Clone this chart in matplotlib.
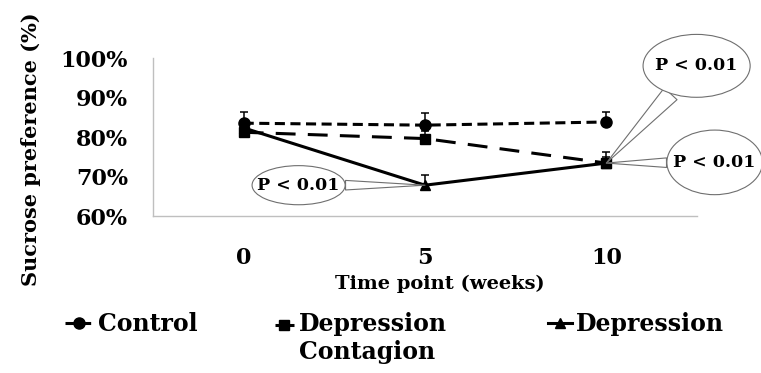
import numpy as np
import matplotlib
matplotlib.use("Agg")
import matplotlib.pyplot as plt
from matplotlib.path import Path
from matplotlib.transforms import Affine2D
from matplotlib.legend_handler import HandlerLine2D
from matplotlib.ticker import PercentFormatter

# values (fraction of 1)
weeks = ["0", "5", "10"]
control = [0.835, 0.830, 0.838]
control_err = [0.028, 0.030, 0.025]
contagion = [0.812, 0.796, 0.734]
contagion_err = [0.015, 0.020, 0.015]
depression = [0.823, 0.678, 0.734]
depression_err = [0.015, 0.025, 0.028]

labels = ["Control", "Depression\nContagion", "Depression"]
p_text = "P < 0.01"

SERIF = "DejaVu Serif"


class EllipseBox:
    # speech bubble body for the p-value callouts
    def __init__(self, sx, sy):
        self.sx, self.sy = sx, sy

    def __call__(self, x0, y0, width, height, mutation_size):
        rx = width / 2 * self.sx
        ry = height / 2 * self.sy
        return Path.unit_circle().transformed(
            Affine2D().scale(rx, ry).translate(x0 + width / 2, y0 + height / 2))


class RaisedLine(HandlerLine2D):
    # keep the handle level with the first line of a two line label
    def create_artists(self, legend, orig_handle, xdescent, ydescent,
                       width, height, fontsize, trans):
        arts = super().create_artists(legend, orig_handle, xdescent, ydescent,
                                      width, height, fontsize, trans)
        for a in arts:
            a.set_ydata(np.asarray(a.get_ydata()) + 0.6 * fontsize)
        return arts


fig = plt.figure(figsize=(7.61, 3.73), dpi=100)
ax = fig.add_axes([153 / 761, 1 - 216 / 373, 544 / 761, 158 / 373])

x = np.arange(len(weeks))
lw = 2.2
err_kw = dict(fmt="none", ecolor="black", elinewidth=1.1, capsize=3, capthick=1.1)

ax.errorbar(x, control, yerr=[np.zeros(3), control_err], **err_kw)
ax.errorbar(x, contagion, yerr=[np.zeros(3), contagion_err], **err_kw)
ax.errorbar(x, depression, yerr=[np.zeros(3), depression_err], **err_kw)

l_ctrl, = ax.plot(x, control, color="black", lw=lw, ls=(0, (3.3, 1.8)),
                  marker="o", ms=8)
l_cont, = ax.plot(x, contagion, color="black", lw=lw, ls=(0, (6.5, 4)),
                  marker="s", ms=6.5)
l_dep, = ax.plot(x, depression, color="black", lw=lw, ls="-",
                 marker="^", ms=7)

ax.set_xlim(-0.5, len(weeks) - 0.5)
ax.set_ylim(0.6, 1.0)
ax.set_yticks(np.arange(0.6, 1.01, 0.1))
ax.yaxis.set_major_formatter(PercentFormatter(1.0, decimals=0))
ax.set_xticks(x, weeks)

for s in ["top", "right"]:
    ax.spines[s].set_visible(False)
for s in ["left", "bottom"]:
    ax.spines[s].set_color("#bfbfbf")
    ax.spines[s].set_linewidth(1.0)

ax.tick_params(axis="both", length=0)
ax.tick_params(axis="y", pad=18)
ax.tick_params(axis="x", pad=22)
for t in ax.get_xticklabels() + ax.get_yticklabels():
    t.set_fontfamily(SERIF)
    t.set_fontweight("bold")
    t.set_fontsize(16)

ax.set_xlabel("Time point (weeks)", fontfamily=SERIF, fontweight="bold", fontsize=14)
ax.xaxis.set_label_coords(0.528, -0.37)
ax.set_ylabel("Sucrose preference (%)", fontfamily=SERIF, fontweight="bold", fontsize=15)
ax.yaxis.set_label_coords(-0.205, 0.42)

# p-value callouts
bubble = dict(fontfamily=SERIF, fontweight="bold", fontsize=12.5,
              ha="center", va="center", textcoords="offset points",
              annotation_clip=False, zorder=5)
edge = "#6f6f6f"


def tail(width):
    return dict(arrowstyle="wedge,tail_width=%g,shrink_factor=0.5" % width,
                fc="white", ec=edge, lw=0.8, shrinkA=0, shrinkB=0)


ax.annotate(p_text, xy=(x[1], depression[1]), xytext=(-91, 0),
            bbox=dict(boxstyle=EllipseBox(1.13, 2.3), fc="white", ec=edge, lw=0.8),
            arrowprops=tail(0.55), **bubble)
ax.annotate(p_text, xy=(x[2], depression[2]), xytext=(65, 70),
            bbox=dict(boxstyle=EllipseBox(1.3, 3.7), fc="white", ec=edge, lw=0.8),
            arrowprops=tail(1.0), **bubble)
ax.annotate(p_text, xy=(x[2], contagion[2]), xytext=(78, 0.5),
            bbox=dict(boxstyle=EllipseBox(1.16, 3.8), fc="white", ec=edge, lw=0.8),
            arrowprops=tail(0.55), **bubble)

# legend, one block per series so the rows line up at the top
leg_prop = dict(family=SERIF, weight="bold", size=17)
leg_y = 1 - 312 / 373
leg_specs = [(l_ctrl, labels[0], 65, 1.2, None),
             (l_cont, labels[1], 275, 0.8, RaisedLine()),
             (l_dep, labels[2], 548, 1.0, None)]
for line, lab, px, hl, handler in leg_specs:
    hmap = {line: handler} if handler is not None else None
    fig.legend(handles=[line], labels=[lab], loc="upper left",
               bbox_to_anchor=(px / 761, leg_y), frameon=False,
               borderaxespad=0, borderpad=0, handlelength=hl,
               handletextpad=0.2, prop=leg_prop, handler_map=hmap)

fig.savefig("out.png", dpi=100)
